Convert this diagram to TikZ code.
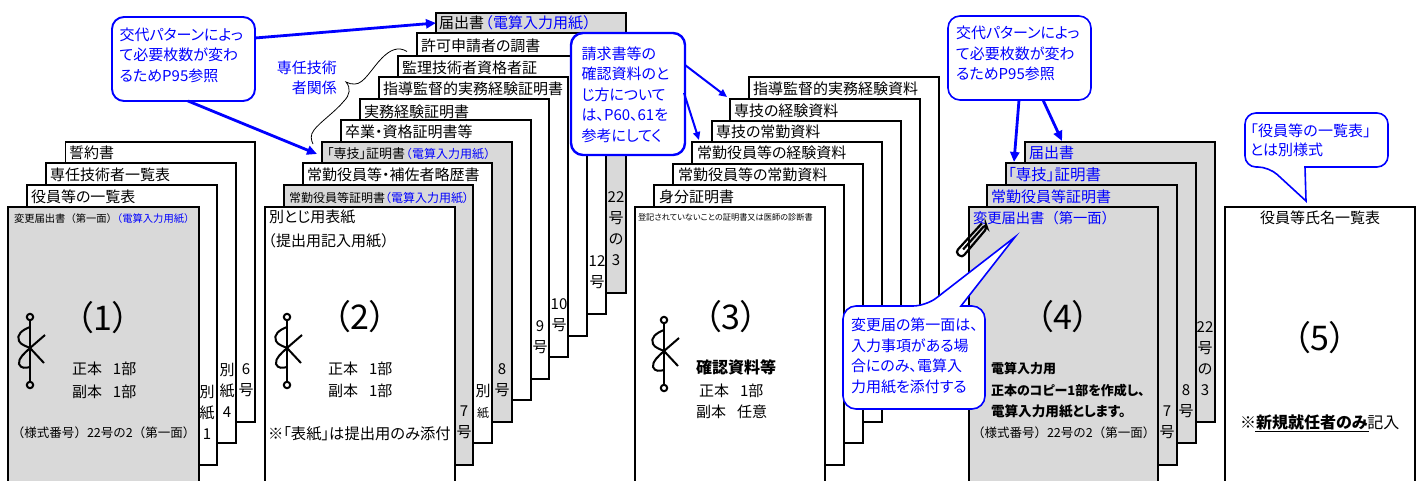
\documentclass[tikz,border=0pt]{standalone}
\usepackage{fontspec}
\usetikzlibrary{calc,arrows.meta}
\setmainfont{Noto Sans CJK JP}[RawFeature=+palt]
\newfontfamily\fw{Noto Sans CJK JP}
\definecolor{pgray}{HTML}{D9D9D9}
\definecolor{cblue}{RGB}{0,0,255}
\newcommand{\fsz}[1]{\fontsize{#1}{#1}\selectfont}
\tikzset{
  pagebox/.style={draw=black,line width=1.2pt,fill=white,inner sep=0pt,outer sep=0pt,anchor=north west},
  graybox/.style={pagebox,fill=pgray},
  callbox/.style={draw=cblue,line width=1.9pt,fill=white,rounded corners=12pt,inner sep=0pt,outer sep=0pt,anchor=north west},
  callline/.style={draw=cblue,line width=1.6pt,fill=white,line join=miter},
  calltxt/.style={inner sep=0pt,outer sep=0pt,align=left,text=cblue,font=\fontsize{15}{20.5}\selectfont,anchor=west},
  bluearrow/.style={draw=cblue,line width=2.8pt,-{Triangle[length=10pt,width=9pt]},shorten >=0pt},
  midarrow/.style={draw=cblue,line width=2pt,-{Triangle[length=8pt,width=7pt]}},
  txt/.style={inner sep=0pt,outer sep=0pt,anchor=base west},
  vtxt/.style={inner sep=0pt,outer sep=0pt,align=center,anchor=center,font=\fontsize{15}{21}\selectfont},
}
% name, style, left, top, right, bottom
\newcommand{\pg}[6]{%
  \pgfmathsetmacro{\ww}{#5-#3}\pgfmathsetmacro{\hh}{#6-#4}%
  \node[#2,minimum width=\ww pt,minimum height=\hh pt] (#1) at (#3,#4) {};}
% name, x, ycentre, size, text
\newcommand{\lb}[5]{%
  \pgfmathsetmacro{\yy}{#3+0.36*#4}%
  \node[txt,font=\fsz{#4}] (#1) at (#2,\yy) {#5};}
\newcommand{\vl}[4]{\node[vtxt] (#1) at (#2,#3) {#4};}
\newcommand{\bg}[4]{\node[inner sep=0pt,outer sep=0pt,font=\fsz{34}] (#1) at (#2,#3) {#4};}
\newcommand{\knot}[2]{%
  \begin{scope}[shift={(#1,#2)},line width=2pt,draw=black]
    \draw (0,3) -- (0,65);
    \draw (0,0) circle (3.2);
    \draw (0,68) circle (3.2);
    \draw (0,10) .. controls (-8,13) and (-14,18) .. (-11,24) .. controls (-9,28) and (-4,29) .. (0,31) -- (14,46);
    \draw (15,18) -- (0,31) .. controls (-5,36) and (-12,41) .. (-11,47) .. controls (-9,52) and (-4,51) .. (0,50);
  \end{scope}}
\begin{document}
\begin{tikzpicture}[x=1pt,y=-1pt]
\useasboundingbox (0,0) rectangle (1423,481);
\clip (0,0) rectangle (1423,481);
% stack 1
\pg{a4}{pagebox}{65.5}{142}{255}{422}
\pg{a3}{pagebox}{46}{163}{236}{443}
\pg{a2}{pagebox}{27}{185}{217}{465}
\pg{a1}{graybox}{8}{207}{199}{520}
\lb{a4t}{69}{153}{15}{誓約書}
\lb{a3t}{50}{175}{15}{専任技術者一覧表}
\lb{a2t}{31}{197}{15}{役員等の一覧表}
\lb{a1t}{14}{219}{10.3}{\fw 変更届出書（第一面）\hspace{-5pt}\textcolor{cblue}{（電算入力用紙）}}
\bg{a1n}{103}{318}{（1）}
\lb{a1s}{72}{369}{15}{正本\hspace{11pt}1部}
\lb{a1f}{72}{392}{15}{副本\hspace{11pt}1部}
\lb{a1y}{12}{433}{12.5}{\fw （様式番号）22号の2（第一面）}
\vl{a2v}{207}{412.5}{別\\紙\\1}
\vl{a3v}{227}{390.5}{別\\紙\\4}
\vl{a4v}{246}{380}{6\\号}
\knot{30}{317}
% stack 2
\pg{b10}{graybox}{436}{13}{626}{293}
\pg{b9}{pagebox}{417}{33}{606}{314}
\pg{b8}{pagebox}{398}{56}{587}{336}
\pg{b7}{pagebox}{379}{77}{568}{357}
\pg{b6}{pagebox}{360}{99}{549}{379}
\pg{b5}{pagebox}{341}{120}{531}{400}
\pg{b4}{graybox}{322}{142}{512}{422}
\pg{b3}{pagebox}{303}{163}{492}{443}
\pg{b2}{graybox}{284}{185}{473}{465}
\pg{b1}{pagebox}{265}{207}{455}{520}
\lb{b10t}{439}{23}{15}{届出書\hspace{-6pt}{\fw\textcolor{cblue}{（電算入力用紙）}}}
\lb{b9t}{421}{46}{15}{許可申請者の調書}
\lb{b8t}{402}{68}{15}{監理技術者資格者証}
\lb{b7t}{383}{89}{15}{指導監督的実務経験証明書}
\lb{b6t}{364}{112}{15}{実務経験証明書}
\lb{b5t}{345}{132}{15}{卒業・資格証明書等}
\lb{b4t}{327}{154}{13}{「専技」証明書\hspace{-5pt}{\fw\fsz{12}\textcolor{cblue}{（電算入力用紙）}}}
\lb{b3t}{307}{175}{15}{常勤役員等・補佐者略歴書}
\lb{b2t}{289}{198}{12}{常勤役員等証明書\textcolor{cblue}{（電算入力用紙）}}
\lb{b1t}{269}{217}{15}{別とじ用表紙}
\lb{b1u}{261}{241}{15}{\fw （提出用記入用紙）}
\bg{b1n}{360}{317}{（2）}
\lb{b1s}{328}{369}{15}{正本\hspace{11pt}1部}
\lb{b1f}{328}{391}{15}{副本\hspace{11pt}1部}
\lb{b1h}{268}{434}{15.3}{※「表紙」は提出用のみ添付}
\vl{b2v}{464}{422.5}{7\\号}
\vl{b3v}{483}{401.5}{別\\{\fsz{12}紙}}
\vl{b4v}{502}{380}{8\\号}
\vl{b6v}{540}{337}{9\\号}
\vl{b7v}{559}{315.5}{10\\号}
\vl{b9v}{597}{272}{12\\号}
\vl{b10v}{616}{229}{22\\号\\の\\3}
\knot{287}{317}
% stack 3
\pg{c7}{pagebox}{749}{77}{939}{357}
\pg{c6}{pagebox}{730}{99}{920}{379}
\pg{c5}{pagebox}{712}{121}{901}{400}
\pg{c4}{pagebox}{692}{142}{882}{422}
\pg{c3}{pagebox}{673}{164}{863}{443}
\pg{c2}{pagebox}{654}{185}{844}{465}
\pg{c1}{pagebox}{635}{207}{825}{520}
\lb{c7t}{753}{89}{15}{指導監督的実務経験資料}
\lb{c6t}{734}{111}{15}{専技の経験資料}
\lb{c5t}{716}{132}{15}{専技の常勤資料}
\lb{c4t}{697}{153}{15}{常勤役員等の経験資料}
\lb{c3t}{678}{175}{15}{常勤役員等の常勤資料}
\lb{c2t}{659}{197}{15}{身分証明書}
\lb{c1t}{638}{218}{8.2}{登記されていないことの証明書又は医師の診断書}
\bg{c1n}{731}{317}{（3）}
\lb{c1b}{696}{368}{16}{\bfseries 確認資料等}
\lb{c1s}{699}{391}{15}{正本\hspace{11pt}1部}
\lb{c1f}{696}{412}{15}{副本\hspace{11pt}任意}
\knot{664}{320}
% stack 4
\pg{d4}{graybox}{1025}{142}{1215}{422}
\pg{d3}{graybox}{1006}{163}{1196}{443}
\pg{d2}{graybox}{987}{185}{1177}{465}
\pg{d1}{graybox}{969}{207}{1158}{520}
\lb{d4t}{1029}{153}{15}{\textcolor{cblue}{届出書}}
\lb{d3t}{1008}{175}{15.5}{\textcolor{cblue}{「専技」証明書}}
\lb{d2t}{991}{197}{15}{\textcolor{cblue}{常勤役員等証明書}}
\lb{d1t}{973}{218}{14.3}{\fw\textcolor{cblue}{変更届出書（第一面）}}
\bg{d1n}{1063}{317}{（4）}
\lb{d1a}{991}{369}{13}{\bfseries 電算入力用}
\lb{d1b}{991}{391}{13}{\bfseries 正本のコピー1部を作成し、}
\lb{d1c}{991}{412}{13.6}{\bfseries 電算入力用紙とします。}
\lb{d1y}{972}{433}{12.5}{\fw （様式番号）22号の2（第一面）}
\vl{d2v}{1167}{422.5}{7\\号}
\vl{d3v}{1186}{401.5}{8\\号}
\vl{d4v}{1205}{358.5}{22\\号\\の\\3}
% stack 5
\pg{e1}{pagebox}{1225}{207}{1415}{520}
\node[inner sep=0pt,font=\fsz{15}] (e1t) at (1320,218) {役員等氏名一覧表};
\bg{e1n}{1320}{338}{（5）}
\lb{e1b}{1240}{423}{16}{※{\bfseries 新規就任者のみ}記入}
\draw[line width=1.1pt] ($(e1b.base west)+(15,3)$) -- ($(e1b.base west)+(129,3)$);
% paper clip
\begin{scope}[shift={(972,240)},rotate=49,line width=2.2pt]
  \draw[rounded corners=3.5pt] (19,-3.5) -- (-20,-4.5) -- (-20,4) -- (19,3.5) -- (21,0) -- (-13,-0.5);
\end{scope}
% brace
\coordinate (brA) at ($(b9.north west)+(-10,18.5)$);
\coordinate (brB) at ($(b4.north west)+(-9,2)$);
\draw[line width=0.8pt] (brA) .. controls (398,46) and (390,50) .. (382,58) .. controls (372,68) and (364,84) .. (355,84) .. controls (352,84) and (349,84) .. (346,82) .. controls (351,88) and (350,95) .. (344,101) .. controls (335,112) and (320,122) .. (314,130) .. controls (310,135) and (311,140) .. (brB);
\node[inner sep=0pt,align=right,text=cblue,font=\fontsize{15}{19.5}\selectfont,anchor=east] (lbS) at (337,78) {専任技術\\者関係};
% callouts
\node[callbox,minimum width=143pt,minimum height=84pt] (ca) at (112,17) {};
\node[calltxt] (cat) at (119.5,55) {交代パターンによっ\\て必要枚数が変わ\\るためP95参照};
\draw[bluearrow] ($(ca.north east)+(0,21)$) -- ($(b10.north west)+(0,10)$);
\draw[bluearrow] ($(ca.south west)+(76,0)$) -- ($(b4.north west)+(-5,12)$);
\node[callbox,line width=2.4pt,minimum width=114pt,minimum height=122pt] (cb) at (571,33) {};
\node[calltxt] (cbt) at (581.5,94.5) {請求書等の\\確認資料のと\\じ方について\\は、P60、61を\\参考にしてく};
\draw[midarrow] ($(cb.north east)+(0,32)$) -- ($(c6.north west)+(-3,-2)$);
\draw[midarrow] ($(cb.north east)+(-1,60)$) -- ($(c4.north west)+(7,-2)$);
\node[callbox,line width=1.6pt,minimum width=143pt,minimum height=84pt] (cc) at (948,16) {};
\node[calltxt] (cct) at (956,53.5) {交代パターンによっ\\て必要枚数が変わ\\るためP95参照};
\draw[bluearrow] ($(cc.south west)+(71,0)$) -- ($(d3.north west)+(8,-1)$);
\draw[bluearrow] ($(cc.south west)+(95,0)$) -- ($(d4.north west)+(37,-1)$);
% wedge callouts
\draw[callline] (926,306) -- (1015,237) -- (961,306) [rounded corners=13pt] -- (985,306) -- (985,409) -- (843,409) -- (843,306) -- cycle;
\node[calltxt] (cd) at (851,356) {変更届の第一面は、\\入力事項がある場\\合にのみ、電算入\\力用紙を添付する};
\draw[callline] (1269,167) -- (1306,201) -- (1305,167) [rounded corners=11pt] -- (1388,167) -- (1388,113) -- (1245,113) -- (1245,167) -- cycle;
\node[calltxt,font=\fontsize{15}{19.5}\selectfont] (ce) at (1243,140.5) {{\fw 「役員等の一覧表」}\\\hspace{7pt}とは別様式};
\end{tikzpicture}
\end{document}
